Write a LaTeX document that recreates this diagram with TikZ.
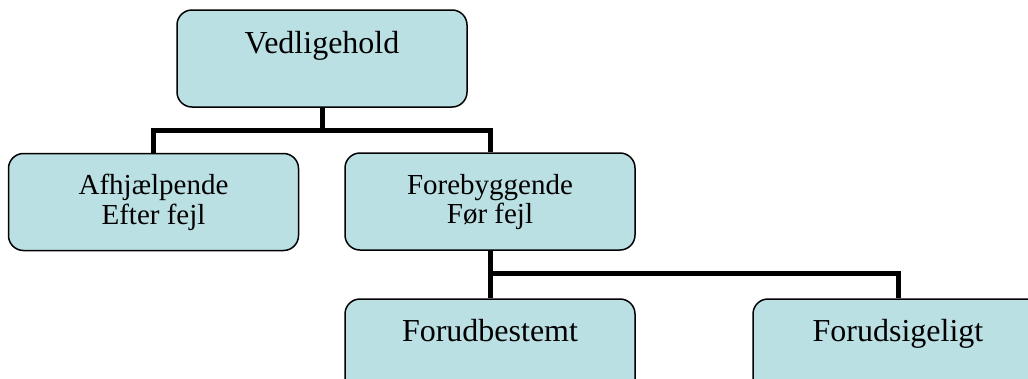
\documentclass[tikz,border=0pt]{standalone}
\usepackage{fontspec}
\setmainfont{Liberation Serif}
\usetikzlibrary{positioning}
\definecolor{boxfill}{RGB}{187,224,228}

\begin{document}
\begin{tikzpicture}[x=1pt, y=-1pt,
	vbox/.style={rectangle, rounded corners=15pt, draw=black, fill=boxfill, line width=1.5pt, minimum width=290pt, minimum height=97pt, inner sep=0pt},
	vtext/.style={anchor=base, inner sep=0pt, font=\fontsize{32}{38}\selectfont},
	vtextsm/.style={anchor=base, inner sep=0pt, font=\fontsize{29}{31}\selectfont},
	link/.style={line width=5pt}]
	\useasboundingbox (0,0) rectangle (1028,378);
	\clip (0,0) rectangle (1028,378);
	\node[vbox] (vedl) at (322,58.5) {};
	\node[vbox] (afh) at (153.5,202) {};
	\node[vbox] (fore) at (490,201.5) {};
	\node[vbox] (forb) at (490,347.5) {};
	\node[vbox] (fors) at (898,347.5) {};
	\node[vtext] (vedl-t) at (322,53) {Vedligehold};
	\node[vtextsm] (afh-t1) at (153.5,194) {Afhjælpende};
	\node[vtextsm] (afh-t2) at (153.5,224) {Efter fejl};
	\node[vtextsm] (fore-t1) at (490,194) {Forebyggende};
	\node[vtextsm] (fore-t2) at (490,223) {Før fejl};
	\node[vtext] (forb-t) at (490,341) {Forudbestemt};
	\node[vtext] (fors-t) at (898,341) {Forudsigeligt};
	\draw[link] (vedl.south) -- ++(0,23) coordinate (vbar);
	\draw[link] (afh.north) |- (vbar) -| (fore.north);
	\draw[link] (fore.south) -- ++(0,23) coordinate (fbar) -- (forb.north);
	\draw[link] (fbar) -| (fors.north);
\end{tikzpicture}
\end{document}
